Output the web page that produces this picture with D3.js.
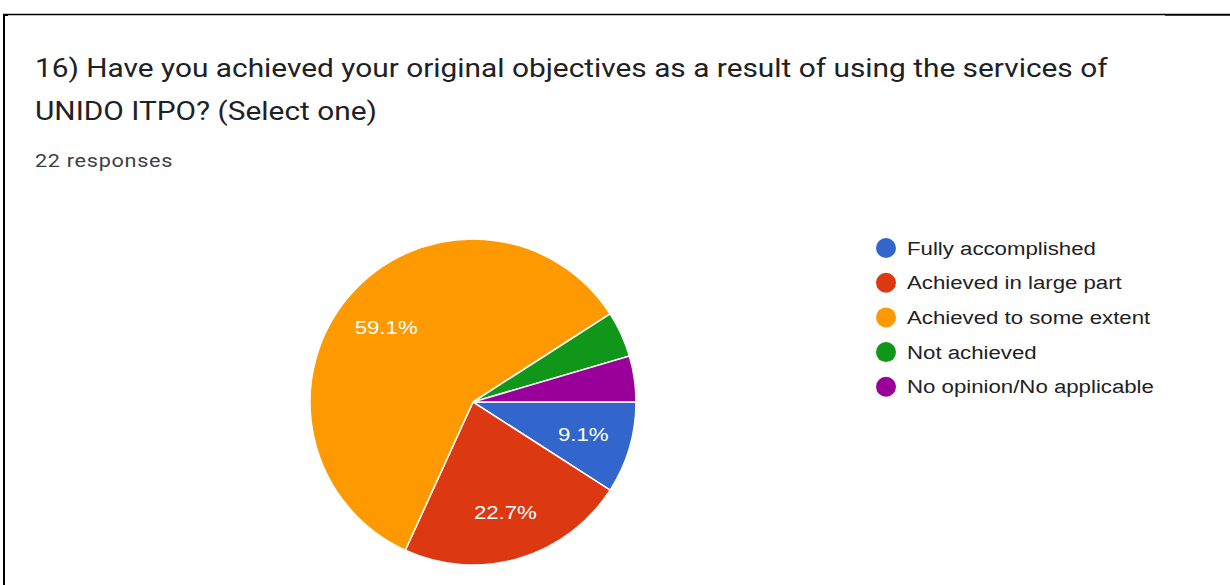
<!DOCTYPE html>
<html>
<head>
<meta charset="utf-8">
<script src="https://cdn.jsdelivr.net/npm/d3@7"></script>
<style>
  html, body { margin: 0; padding: 0; background: #fff; }
  svg { display: block; }
</style>
</head>
<body>
<svg id="chart" width="1230" height="585"></svg>
<script>
// Survey question 16 — 22 responses
const categories = [
  "Fully accomplished",
  "Achieved in large part",
  "Achieved to some extent",
  "Not achieved",
  "No opinion/No applicable"
];
const counts = [2, 5, 13, 1, 1];
const colors = ["#3366cc", "#dc3912", "#ff9900", "#109618", "#990099"];
const titleLines = [
  "16) Have you achieved your original objectives as a result of using the services of",
  "UNIDO ITPO? (Select one)"
];
const subtitle = "22 responses";

const svg = d3.select("#chart");
const W = 1230, H = 585;
const stretch = 1.17; // glyphs are drawn slightly wide

// card frame
svg.append("line").attr("x1", 3).attr("x2", 1165).attr("y1", 14.5).attr("y2", 14.5)
  .attr("stroke", "#000").attr("stroke-width", 1.3);
svg.append("line").attr("x1", 1165).attr("x2", W).attr("y1", 14.8).attr("y2", 14.8)
  .attr("stroke", "#000").attr("stroke-width", 2);
svg.append("line").attr("x1", 4).attr("x2", 4).attr("y1", 14).attr("y2", H)
  .attr("stroke", "#000").attr("stroke-width", 2);
svg.append("rect").attr("x", 3).attr("y", 14).attr("width", 5).attr("height", 2).attr("fill", "#000");

// title
titleLines.forEach((t, i) => {
  svg.append("text")
    .attr("transform", `translate(35,${77 + i * 43}) scale(${stretch},1)`)
    .attr("font-family", "Roboto, 'Noto Sans', sans-serif")
    .attr("font-size", 25.5)
    .attr("fill", "#202124")
    .text(t);
});

svg.append("text")
  .attr("transform", `translate(35,167) scale(${stretch},1)`)
  .attr("font-family", "Roboto, 'Noto Sans', sans-serif")
  .attr("font-size", 18.5)
  .attr("letter-spacing", 0.6)
  .attr("fill", "#3c4043")
  .text(subtitle);

// pie
const cx = 473, cy = 402, R = 163;
const total = d3.sum(counts);
const data = categories.map((c, i) => ({ name: c, value: counts[i], color: colors[i] }));

const pie = d3.pie()
  .value(d => d.value)
  .sort(null)
  .startAngle(Math.PI / 2)
  .endAngle(Math.PI / 2 + 2 * Math.PI);

const arc = d3.arc().innerRadius(0).outerRadius(R);
const labelArc = d3.arc().innerRadius(R * 0.705).outerRadius(R * 0.705);

const g = svg.append("g").attr("transform", `translate(${cx},${cy})`);
const arcs = pie(data);

g.selectAll("path.slice")
  .data(arcs)
  .join("path")
  .attr("class", "slice")
  .attr("d", arc)
  .attr("fill", d => d.data.color)
  .attr("stroke", "#fff")
  .attr("stroke-width", 1.5);

const fmt = v => (Math.round(v / total * 1000) / 10).toFixed(1) + "%";

g.selectAll("text.pct")
  .data(arcs.filter(d => d.data.value / total >= 0.06))
  .join("text")
  .attr("class", "pct")
  .attr("transform", d => `translate(${labelArc.centroid(d)}) scale(${stretch},1)`)
  .attr("text-anchor", "middle")
  .attr("dy", "0.36em")
  .attr("font-family", "'Liberation Sans', Arial, sans-serif")
  .attr("font-size", 19)
  .attr("fill", "#fff")
  .text(d => fmt(d.data.value));

// legend
const lx = 886, ly = 248, step = 34.7;
const legend = svg.append("g");
const items = legend.selectAll("g")
  .data(data)
  .join("g")
  .attr("transform", (d, i) => `translate(${lx},${ly + i * step})`);
items.append("circle").attr("r", 10).attr("fill", d => d.color);
items.append("text")
  .attr("transform", `translate(21,0) scale(${stretch},1)`)
  .attr("dy", "0.35em")
  .attr("font-family", "'Liberation Sans', Arial, sans-serif")
  .attr("font-size", 19)
  .attr("fill", "#222")
  .text(d => d.name);
</script>
</body>
</html>
